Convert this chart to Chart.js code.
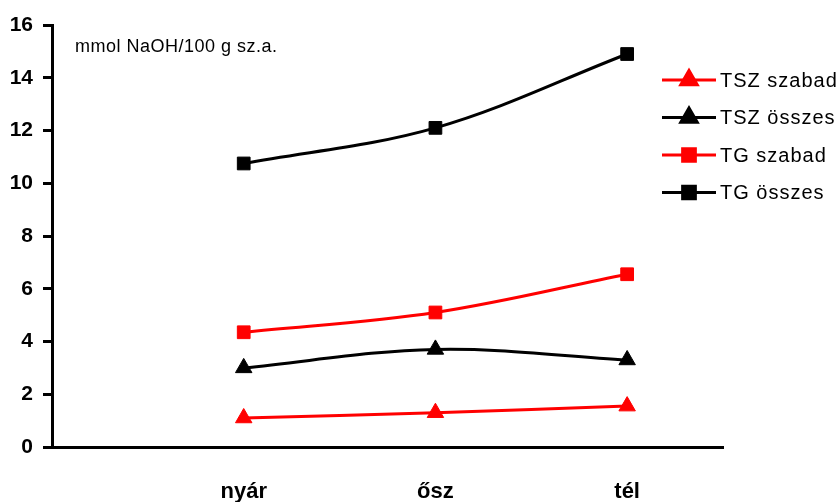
<!DOCTYPE html>
<html>
<head>
<meta charset="utf-8">
<script src="https://cdn.jsdelivr.net/npm/chart.js@4"></script>
<style>
  html, body { margin: 0; padding: 0; background: #fff; }
  #wrap { width: 840px; height: 502px; }
</style>
</head>
<body>
<div id="wrap"><canvas id="chart" width="840" height="502"></canvas></div>
<script>
const seasons = ["nyár", "ősz", "tél"];
const seasonPos = [1, 2, 3];
const yTicks = [0, 2, 4, 6, 8, 10, 12, 14, 16];

const tszSzabad = [1.1, 1.3, 1.55];
const tszOsszes = [3.0, 3.7, 3.3];
const tgSzabad = [4.35, 5.1, 6.55];
const tgOsszes = [10.75, 12.1, 14.9];

const unitLabel = "mmol NaOH/100 g sz.a.";

function toPoints(values) {
  return values.map((v, i) => ({ x: seasonPos[i], y: v }));
}

function series(label, values, color, shape) {
  return {
    label: label,
    data: toPoints(values),
    borderColor: color,
    backgroundColor: color,
    borderWidth: 3,
    pointStyle: shape,
    pointRadius: shape === "rect" ? 9 : 9.5,
    pointBorderWidth: 1,
    tension: 0.35,
    clip: false,
  };
}

// legend with line + marker, drawn on the right
const sideLegend = {
  id: "sideLegend",
  afterDraw(chart) {
    const ctx = chart.ctx;
    ctx.save();
    chart.data.datasets.forEach((ds, i) => {
      const y = 80 + i * 37.5;
      ctx.strokeStyle = ds.borderColor;
      ctx.lineWidth = 3;
      ctx.beginPath();
      ctx.moveTo(662, y);
      ctx.lineTo(716, y);
      ctx.stroke();
      Chart.helpers.drawPoint(ctx, {
        pointStyle: ds.pointStyle,
        radius: ds.pointRadius,
        borderWidth: 1,
      }, 689, y);
      ctx.fillStyle = ds.borderColor;
      ctx.fill();
      ctx.fillStyle = "#000";
      ctx.font = "20px 'Liberation Sans', Arial, sans-serif";
      ctx.letterSpacing = "1px";
      ctx.textBaseline = "middle";
      ctx.fillText(ds.label, 720, y + 1);
    });
    ctx.font = "18px 'Liberation Sans', Arial, sans-serif";
    ctx.letterSpacing = "0.5px";
    ctx.textBaseline = "middle";
    ctx.fillStyle = "#000";
    ctx.fillText(unitLabel, 75, 47);
    ctx.restore();
  },
};

new Chart(document.getElementById("chart"), {
  type: "line",
  data: {
    datasets: [
      series("TSZ szabad", tszSzabad, "#ff0000", "triangle"),
      series("TSZ összes", tszOsszes, "#000000", "triangle"),
      series("TG szabad", tgSzabad, "#ff0000", "rect"),
      series("TG összes", tgOsszes, "#000000", "rect"),
    ],
  },
  options: {
    responsive: false,
    animation: false,
    layout: { padding: { top: 25, right: 117, left: 0, bottom: 0 } },
    plugins: { legend: { display: false }, tooltip: { enabled: false } },
    scales: {
      x: {
        type: "linear",
        min: 0,
        max: 3.5,
        afterFit: (s) => { s.height = 55; },
        afterBuildTicks: (s) => { s.ticks = seasonPos.map((v) => ({ value: v })); },
        grid: { display: false },
        border: { color: "#000", width: 3 },
        ticks: {
          padding: 24,
          color: "#000",
          font: { family: "'Liberation Sans', Arial, sans-serif", size: 22, weight: "bold" },
          callback: (v) => seasons[seasonPos.indexOf(v)] || "",
        },
      },
      y: {
        min: 0,
        max: 16,
        afterFit: (s) => { s.width = 52; },
        afterBuildTicks: (s) => { s.ticks = yTicks.map((v) => ({ value: v })); },
        grid: {
          drawOnChartArea: false,
          drawTicks: true,
          tickLength: 9,
          color: "#000",
          lineWidth: 3,
        },
        border: { color: "#000", width: 3 },
        ticks: {
          padding: 10,
          color: "#000",
          font: { family: "'Liberation Sans', Arial, sans-serif", size: 21, weight: "bold" },
        },
      },
    },
  },
  plugins: [sideLegend],
});
</script>
</body>
</html>
